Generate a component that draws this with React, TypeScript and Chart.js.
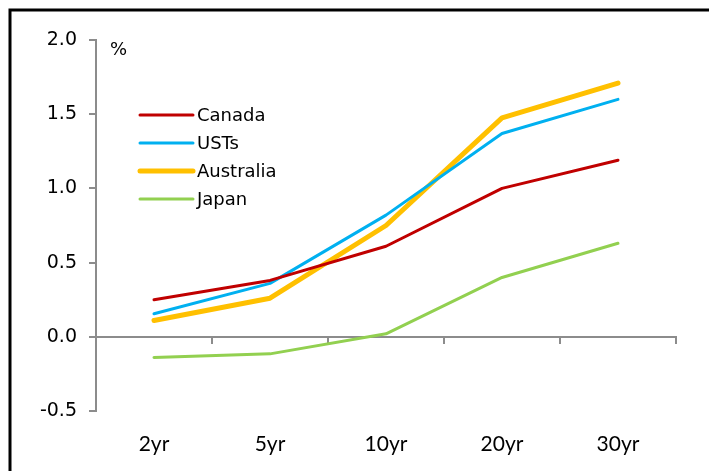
import React, { useEffect, useRef } from "react";
import { Chart, registerables } from "chart.js";

Chart.register(...registerables);

const categories = ["2yr", "5yr", "10yr", "20yr", "30yr"];
const canada = [0.25, 0.38, 0.61, 1.0, 1.19];
const usts = [0.155, 0.36, 0.82, 1.37, 1.6];
const australia = [0.11, 0.26, 0.75, 1.475, 1.71];
const japan = [-0.14, -0.115, 0.02, 0.4, 0.63];
const seriesNames = ["Canada", "USTs", "Australia", "Japan"];
const unitLabel = "%";

const AXIS = "#8c8c8c";

const frameAndLegend = {
  id: "frameAndLegend",
  beforeDraw(chart: any) {
    const ctx = chart.ctx;
    ctx.save();
    ctx.fillStyle = "#ffffff";
    ctx.fillRect(0, 0, chart.width, chart.height);
    ctx.strokeStyle = "#000000";
    ctx.lineWidth = 3;
    ctx.strokeRect(10, 10, chart.width + 20, chart.height + 20);
    ctx.restore();
  },
  afterDraw(chart: any) {
    const ctx = chart.ctx;
    const y = chart.scales.y;
    ctx.save();
    ctx.fillStyle = "#000";
    ctx.font = "18px 'DejaVu Sans'";
    ctx.textBaseline = "top";
    ctx.textAlign = "left";
    ctx.fillText(unitLabel, chart.chartArea.left + 14, y.getPixelForValue(2.0) + 1);
    // legend
    const x0 = 140;
    const x1 = 193;
    const top = 115;
    const step = 28;
    chart.data.datasets.forEach((ds: any, i: number) => {
      const yy = top + i * step;
      ctx.strokeStyle = ds.borderColor;
      ctx.lineWidth = ds.borderWidth;
      ctx.lineCap = "round";
      ctx.beginPath();
      ctx.moveTo(x0, yy);
      ctx.lineTo(x1, yy);
      ctx.stroke();
      ctx.fillStyle = "#000";
      ctx.font = "18px 'DejaVu Sans'";
      ctx.textBaseline = "middle";
      ctx.fillText(ds.label, x1 + 4, yy + 1);
    });
    ctx.restore();
  },
};

export default function App() {
  const ref = useRef<HTMLCanvasElement | null>(null);
  useEffect(() => {
    if (!ref.current) return;
    const mk = (label: string, data: number[], color: string, w: number) => ({
      label,
      data,
      borderColor: color,
      backgroundColor: color,
      borderWidth: w,
      pointRadius: 0,
      tension: 0,
      borderCapStyle: "round" as const,
      borderJoinStyle: "round" as const,
      fill: false,
    });
    const chart = new Chart(ref.current, {
      type: "line",
      data: {
        labels: categories,
        datasets: [
          mk(seriesNames[0], canada, "#C00000", 3),
          mk(seriesNames[1], usts, "#00B0F0", 3),
          mk(seriesNames[2], australia, "#FFC000", 5),
          mk(seriesNames[3], japan, "#92D050", 3),
        ],
      },
      options: {
        animation: false,
        responsive: false,
        devicePixelRatio: 1,
        layout: { padding: { left: 0, right: 33, top: 40, bottom: 0 } },
        plugins: { legend: { display: false }, tooltip: { enabled: false }, title: { display: false } },
        scales: {
          x: {
            type: "category",
            position: "bottom",
            offset: true,
            grid: { display: false },
            border: { display: false },
            ticks: {
              color: "#000",
              font: { family: "Lato", size: 21 },
              padding: 13,
              maxRotation: 0,
            },
            afterFit(scale: any) {
              scale.height = 60;
            },
          },
          x2: {
            type: "category",
            position: { y: 0 },
            offset: true,
            grid: {
              display: true,
              drawOnChartArea: false,
              drawTicks: true,
              tickLength: 6,
              offset: true,
              color: AXIS,
              lineWidth: 2,
            },
            border: { display: true, color: AXIS, width: 2 },
            ticks: { display: false },
          },
          y: {
            min: -0.5,
            max: 2.0,
            ticks: {
              stepSize: 0.5,
              color: "#000",
              font: { family: "DejaVu Sans", size: 19 },
              padding: 12,
              callback: (v: any) => Number(v).toFixed(1),
            },
            grid: {
              display: true,
              drawOnChartArea: false,
              drawTicks: true,
              tickLength: 7,
              color: AXIS,
              lineWidth: 2,
            },
            border: { display: true, color: AXIS, width: 2 },
            afterFit(scale: any) {
              scale.width = 96;
            },
          },
        },
      } as any,
      plugins: [frameAndLegend],
    });
    return () => chart.destroy();
  }, []);
  return (
    <div style={{ position: "fixed", left: 0, top: 0, width: 709, height: 471 }}>
      <canvas ref={ref} width={709} height={471} style={{ width: 709, height: 471, display: "block" }} />
    </div>
  );
}
